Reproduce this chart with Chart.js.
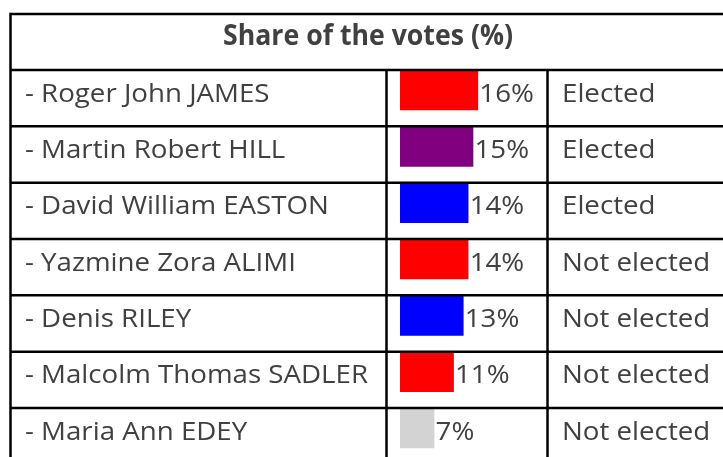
<!DOCTYPE html>
<html>
<head>
<meta charset="utf-8">
<title>Share of the votes</title>
<script src="https://cdn.jsdelivr.net/npm/chart.js@4.4.0/dist/chart.umd.min.js"></script>
<style>
  html, body { margin: 0; padding: 0; background: #fff; }
  .chart-box { position: relative; width: 723px; height: 457px; }
</style>
</head>
<body>
<div class="chart-box"><canvas id="votes"></canvas></div>
<script>
"use strict";

// DATA
const title = "Share of the votes (%)";
const candidates = [
  "- Roger John JAMES",
  "- Martin Robert HILL",
  "- David William EASTON",
  "- Yazmine Zora ALIMI",
  "- Denis RILEY",
  "- Malcolm Thomas SADLER",
  "- Maria Ann EDEY",
];
const shares = [16, 15, 14, 14, 13, 11, 7];
const results = [
  "Elected",
  "Elected",
  "Elected",
  "Not elected",
  "Not elected",
  "Not elected",
  "Not elected",
];
const partyColours = [
  "#ff0000",
  "#800080",
  "#0000ff",
  "#ff0000",
  "#0000ff",
  "#ff0000",
  "#d3d3d3",
];

// LAYOUT
const textColour = "#404040";
const bodyFont = "25px 'Open Sans'";
const headFont = "bold 28px 'Open Sans'";
const tableLeft = 10.5;
const tableTop = 14;
const headCenterX = 368;
const headBaseline = 45;
const nameX = 25;
const resultX = 562;
const barTopGap = 20.5; // row line to bar centre
const baseLineGap = 31.7; // row line to text baseline

// squeeze text so it runs as wide as in the picture
function drawText(ctx, text, x, y, sx, align) {
  ctx.save();
  ctx.translate(x, y);
  ctx.scale(sx, 1);
  ctx.textAlign = align || "left";
  ctx.fillText(text, 0, 0);
  ctx.restore();
}

const tablePlugin = {
  id: "tablePlugin",
  afterDatasetsDraw(chart) {
    const ctx = chart.ctx;
    const yScale = chart.scales.y;
    const xScale = chart.scales.x;
    const area = chart.chartArea;
    const rowH = yScale.getPixelForValue(1) - yScale.getPixelForValue(0);
    const rowTop = (i) => yScale.getPixelForValue(i) - barTopGap;
    const col1 = area.left - 13.5;
    const col2 = area.right + 1.5;
    const bottom = rowTop(candidates.length);

    ctx.save();
    ctx.strokeStyle = "#000";
    ctx.lineWidth = 2.5;
    ctx.beginPath();
    ctx.moveTo(tableLeft, tableTop);
    ctx.lineTo(chart.width + 5, tableTop);
    for (let i = 0; i <= candidates.length; i++) {
      ctx.moveTo(tableLeft, rowTop(i));
      ctx.lineTo(chart.width + 5, rowTop(i));
    }
    ctx.moveTo(tableLeft, tableTop - 1.25);
    ctx.lineTo(tableLeft, bottom);
    ctx.moveTo(col1, rowTop(0));
    ctx.lineTo(col1, bottom);
    ctx.moveTo(col2, rowTop(0));
    ctx.lineTo(col2, bottom);
    ctx.stroke();

    ctx.fillStyle = textColour;
    ctx.textBaseline = "alphabetic";

    ctx.font = headFont;
    const headSx = 290 / ctx.measureText(title).width;
    drawText(ctx, title, headCenterX, headBaseline, headSx, "center");

    ctx.font = bodyFont;
    const bodySx = 343 / ctx.measureText(candidates[5]).width;
    candidates.forEach((name, i) => {
      const base = rowTop(i) + baseLineGap;
      drawText(ctx, name, nameX, base, bodySx);
      const barEnd = xScale.getPixelForValue(shares[i]);
      drawText(ctx, shares[i] + "%", barEnd + 1.5, base, bodySx);
      drawText(ctx, results[i], resultX, base, bodySx);
    });
    ctx.restore();
  },
};

const ctx = document.getElementById("votes").getContext("2d");
const votesChart = new Chart(ctx, {
  type: "bar",
  data: {
    labels: candidates,
    datasets: [
      {
        label: title,
        data: shares,
        backgroundColor: partyColours,
        borderWidth: 0,
        barThickness: 39,
      },
    ],
  },
  options: {
    indexAxis: "y",
    responsive: true,
    maintainAspectRatio: false,
    animation: false,
    layout: {
      padding: { left: 400, right: 177, top: 62.33, bottom: 0.33 },
    },
    scales: {
      x: { display: false, min: 0, max: 30 },
      y: { display: false },
    },
    plugins: {
      legend: { display: false },
      tooltip: { enabled: false },
    },
  },
  plugins: [tablePlugin],
});
</script>
</body>
</html>
